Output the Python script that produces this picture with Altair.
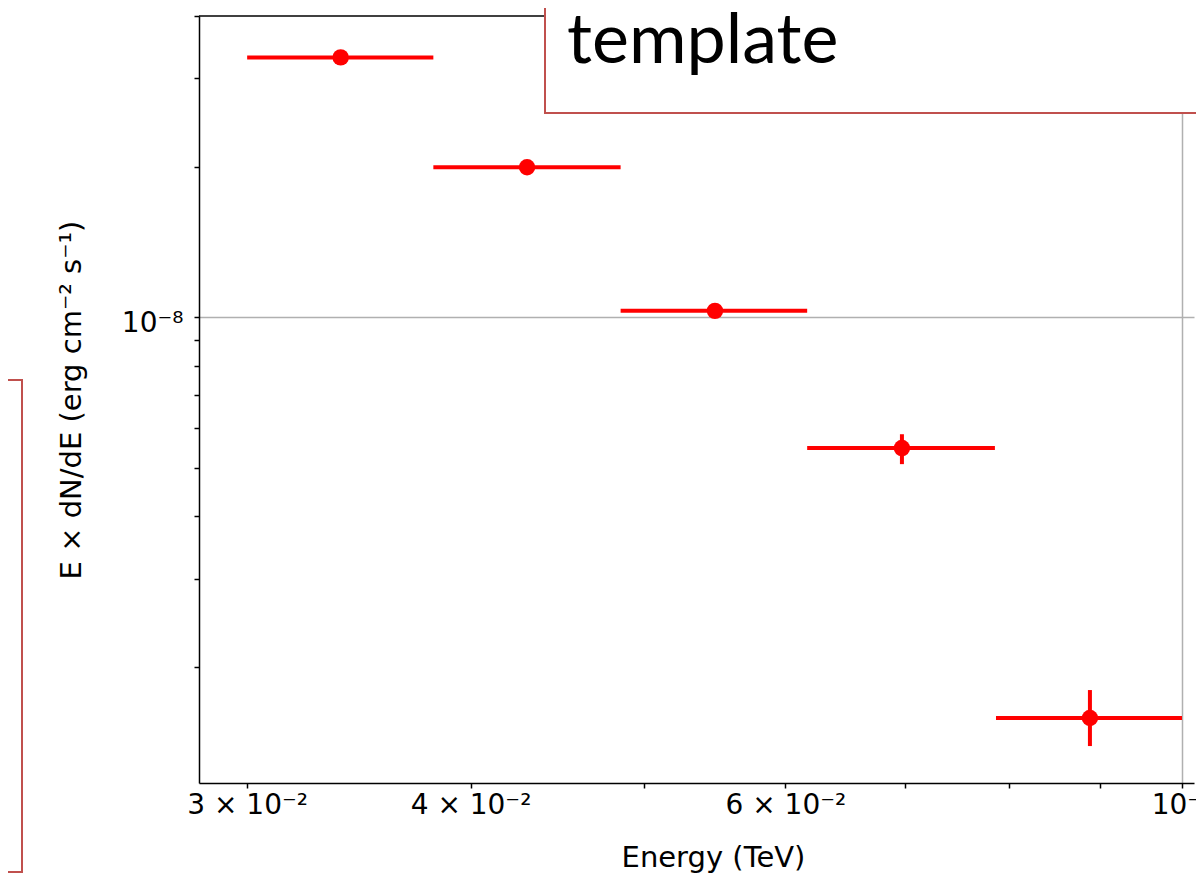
import json
import altair as alt
import pandas as pd

# ---- data ----
energy = [0.03384, 0.04302, 0.05480, 0.06972, 0.08882]
energy_min = [0.0300, 0.03813, 0.04853, 0.06171, 0.07870]
energy_max = [0.03813, 0.04853, 0.06171, 0.07859, 0.1000]
flux = [3.306e-8, 1.993e-8, 1.029e-8, 5.47e-9, 1.578e-9]
flux_lo = [3.26e-8, 1.965e-8, 1.015e-8, 5.08e-9, 1.387e-9]
flux_hi = [3.35e-8, 2.02e-8, 1.043e-8, 5.83e-9, 1.795e-9]

x_ticks = [0.03, 0.04, 0.05, 0.06, 0.07, 0.08, 0.09, 0.1]
x_tick_labels = ["3 × 10⁻²", "4 × 10⁻²", "", "6 × 10⁻²", "", "", "", "10⁻¹"]
y_ticks = [2e-9, 3e-9, 4e-9, 5e-9, 6e-9, 7e-9, 8e-9, 9e-9, 1e-8, 2e-8, 3e-8, 4e-8]
y_tick_labels = ["", "", "", "", "", "", "", "", "10⁻⁸", "", "", ""]
x_grid = 0.1
y_grid = 1e-8
x_domain = [0.028196, 0.10156]
y_domain = [1.17e-9, 4.0e-8]

x_title = "Energy (TeV)"
y_title = "E × dN/dE (erg cm⁻² s⁻¹)"
note_text = "template"

df = pd.DataFrame({
    "energy": energy, "energy_min": energy_min, "energy_max": energy_max,
    "flux": flux, "flux_lo": flux_lo, "flux_hi": flux_hi,
})

W, H = 995, 767
FONT = "DejaVu Sans"
RED = "#ff0000"
BOX = "#c0504d"


def label_expr(values, labels):
    return (json.dumps(labels, ensure_ascii=False) + "[indexof(" +
            json.dumps(values) + ", datum.value)]")


xscale = alt.Scale(type="log", domain=x_domain, nice=False, zero=False)
yscale = alt.Scale(type="log", domain=y_domain, nice=False, zero=False)

xax = alt.Axis(
    values=x_ticks, labelExpr=label_expr(x_ticks, x_tick_labels),
    title=x_title, titleFont=FONT, titleFontSize=29, titleFontWeight="normal",
    titleColor="black", titleX=514, titleY=83, titleBaseline="alphabetic",
    labelFont=FONT, labelFontSize=28, labelColor="black", labelFlush=False,
    labelOverlap=False, labelBound=False, labelBaseline="alphabetic",
    labelPadding=25,
    tickSize=5, tickWidth=1.5, tickColor="black",
    domainColor="black", domainWidth=1.5,
    grid=True, gridColor="#b0b0b0", gridWidth=1.5,
    gridOpacity={"condition": {"test": f"datum.value == {x_grid}", "value": 1}, "value": 0},
)
yax = alt.Axis(
    values=y_ticks, labelExpr=label_expr(y_ticks, y_tick_labels),
    title=y_title, titleFont=FONT, titleFontSize=29, titleFontWeight="normal",
    titleColor="black", titleX=-119, titleY=H / 2, titleBaseline="alphabetic",
    labelFont=FONT, labelFontSize=28, labelColor="black", labelFlush=False,
    labelOverlap=False, labelBound=False, labelBaseline="alphabetic",
    labelOffset=14, labelPadding=11,
    tickSize=5, tickWidth=1.5, tickColor="black",
    domainColor="black", domainWidth=1.5,
    grid=True, gridColor="#b0b0b0", gridWidth=1.5,
    gridOpacity={"condition": {"test": f"datum.value == {y_grid}", "value": 1}, "value": 0},
)

base = alt.Chart(df)

xerr = base.mark_rule(color=RED, strokeWidth=4).encode(
    x=alt.X("energy_min:Q", scale=xscale, axis=xax),
    x2="energy_max:Q",
    y=alt.Y("flux:Q", scale=yscale, axis=yax),
)
yerr = base.mark_rule(color=RED, strokeWidth=4).encode(
    x=alt.X("energy:Q", scale=xscale, axis=xax),
    y=alt.Y("flux_lo:Q", scale=yscale, axis=yax),
    y2="flux_hi:Q",
)
pts = base.mark_circle(color=RED, opacity=1, size=270).encode(
    x=alt.X("energy:Q", scale=xscale, axis=xax),
    y=alt.Y("flux:Q", scale=yscale, axis=yax),
)

one = pd.DataFrame({"k": [0]})
top_border = alt.Chart(one).mark_rule(color="black", strokeWidth=1.5).encode(
    x=alt.value(0), x2=alt.value(W), y=alt.value(0)
)
note_box = alt.Chart(one).mark_rect(fill="white", stroke=BOX, strokeWidth=2).encode(
    x=alt.value(346), x2=alt.value(1200), y=alt.value(-60), y2=alt.value(97)
)
note = alt.Chart(one).mark_text(
    text=note_text, font="Lato", fontSize=70, align="left", baseline="alphabetic",
    color="black"
).encode(x=alt.value(368), y=alt.value(47))
left_box = alt.Chart(one).mark_rect(fill="white", stroke=BOX, strokeWidth=2).encode(
    x=alt.value(-260), x2=alt.value(-177), y=alt.value(364), y2=alt.value(856)
)

chart = alt.layer(
    xerr, yerr, pts, top_border, note_box, note, left_box
).properties(
    width=W, height=H,
    autosize=alt.AutoSizeParams(type="none"),
    padding={"left": 191, "top": 8, "right": 2, "bottom": 91},
    background="white",
).configure_view(stroke=None)

chart.save("out.html", embed_options={"renderer": "svg", "actions": False})
